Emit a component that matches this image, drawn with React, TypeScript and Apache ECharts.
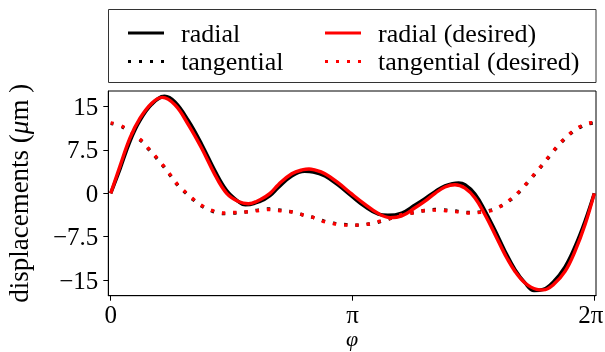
import React, { useEffect, useRef } from "react";
import * as echarts from "echarts";

// radial (measured)
const PHI_RAD = [0, 0.121, 0.251, 0.381, 0.533, 0.70, 0.835, 1.008, 1.182, 1.355, 1.507, 1.658, 1.75, 1.94, 2.07, 2.178, 2.352, 2.52, 2.632, 2.784, 2.957, 3.131, 3.304, 3.477, 3.6, 3.781, 3.954, 4.083, 4.214, 4.343, 4.52, 4.603, 4.733, 4.863, 4.993, 5.123, 5.253, 5.383, 5.5, 5.621, 5.751, 5.903, 6.033, 6.163, 6.283];
const VAL_RAD = [0, 4.2, 9.0, 12.6, 15.4, 16.8, 15.8, 12.6, 8.5, 3.9, 0.5, -1.4, -2.0, -1.4, -0.4, 1.0, 3.0, 3.8, 3.7, 3.0, 1.4, -0.5, -2.3, -3.6, -3.8, -3.4, -2.0, -0.9, 0.3, 1.3, 1.8, 1.5, -0.1, -3.0, -6.4, -10.0, -13.2, -15.5, -16.8, -16.6, -15.3, -12.7, -9.2, -4.8, 0];

// radial (desired)
const PHI_RAD_D = [0, 0.121, 0.251, 0.381, 0.533, 0.67, 0.835, 1.008, 1.182, 1.355, 1.507, 1.658, 1.788, 1.94, 2.07, 2.178, 2.352, 2.502, 2.577, 2.632, 2.784, 2.957, 3.131, 3.304, 3.477, 3.629, 3.781, 3.954, 4.083, 4.214, 4.343, 4.473, 4.603, 4.733, 4.863, 4.993, 5.123, 5.253, 5.383, 5.535, 5.621, 5.751, 5.903, 6.033, 6.163, 6.283];
const VAL_RAD_D = [0, 4.7, 9.6, 13.0, 15.6, 16.6, 15.3, 11.9, 7.8, 3.2, 0, -1.4, -1.8, -1.1, 0, 1.5, 3.4, 4.1, 4.2, 4.1, 3.4, 1.8, -0.1, -1.9, -3.5, -4.2, -3.9, -2.5, -1.35, 0, 1.1, 1.5, 0.9, -0.8, -3.7, -7.1, -10.6, -13.5, -15.5, -16.6, -16.7, -15.8, -13.5, -10.0, -5.4, 0];

// tangential (measured and desired share the sample angles)
const PHI_TAN = [0, 0.164, 0.394, 0.489, 0.589, 0.684, 0.775, 0.865, 0.965, 1.073, 1.195, 1.325, 1.468, 1.619, 1.767, 1.91, 2.048, 2.2, 2.352, 2.49, 2.638, 2.772, 2.915, 3.058, 3.21, 3.356, 3.5, 3.643, 3.781, 3.911, 4.061, 4.213, 4.356, 4.503, 4.646, 4.798, 4.941, 5.071, 5.197, 5.305, 5.4, 5.496, 5.591, 5.682, 5.773, 5.868, 5.99, 6.107, 6.25, 6.283];
const VAL_TAN = [12.1, 11.4, 9.1, 7.7, 6.2, 4.7, 3.1, 1.5, 0.2, -1.1, -2.3, -3.1, -3.5, -3.4, -3.2, -2.9, -2.7, -2.9, -3.2, -3.7, -4.2, -4.8, -5.2, -5.4, -5.5, -5.3, -4.9, -4.3, -3.8, -3.4, -3.0, -2.8, -2.9, -3.1, -3.3, -3.2, -2.9, -2.2, -1.1, 0.2, 1.6, 3.1, 4.6, 6.1, 7.6, 9.0, 10.5, 11.5, 12.1, 12.1];
const VAL_TAN_D = [12.2, 11.5, 9.2, 7.8, 6.3, 4.8, 3.2, 1.6, 0.3, -1.0, -2.2, -3.0, -3.4, -3.3, -3.2, -3.0, -2.8, -3.0, -3.2, -3.7, -4.2, -4.9, -5.3, -5.5, -5.5, -5.3, -4.8, -4.3, -3.7, -3.4, -3.0, -2.9, -3.0, -3.2, -3.4, -3.3, -3.0, -2.2, -1.0, 0.3, 1.7, 3.2, 4.7, 6.2, 7.7, 9.1, 10.6, 11.6, 12.2, 12.2];

const X_TICKS = [0, Math.PI, 2 * Math.PI];
const X_TICK_LABELS = ["0", "π", "2π"];
const Y_TICKS = [-15, -7.5, 0, 7.5, 15];
const Y_TICK_LABELS = ["\u221215", "\u22127.5", "0", "7.5", "15"];

const SERIF = "'Liberation Serif', 'DejaVu Serif', serif";
const DOTS_ICON = "path://M0,0h3v3h-3z M11,0h3v3h-3z M22,0h3v3h-3z M33,0h3v3h-3z";

function pairs(xs: number[], ys: number[]) {
  return xs.map((x, i) => [x, ys[i]]);
}

export default function App() {
  const ref = useRef<HTMLDivElement>(null);
  useEffect(() => {
    if (!ref.current) return;
    const chart = echarts.init(ref.current, null, { renderer: "svg" });
    const dotted = [3, 8.3];
    const mk = (name: string, data: number[][], color: string, dash: any) => ({
      name,
      type: "line",
      data,
      smooth: 0.4,
      showSymbol: false,
      symbol: "none",
      lineStyle: { color, width: 3.4, type: dash, cap: "butt" },
      itemStyle: { color },
      emphasis: { disabled: true },
      z: 2,
    });
    const legendText = {
      fontFamily: SERIF,
      fontSize: 26,
      color: "#000",
      lineHeight: 26,
      padding: [0, 0, 0, 12],
    };
    const legendBase = {
      orient: "vertical",
      top: 15,
      itemWidth: 36,
      itemHeight: 3,
      itemGap: 2.4,
      textStyle: legendText,
      selectedMode: false,
    };
    chart.setOption({
      animation: false,
      grid: {
        left: 108.3,
        top: 91,
        width: 487.7,
        height: 204.7,
        show: true,
        borderColor: "#000",
        borderWidth: 1,
        backgroundColor: "transparent",
        containLabel: false,
        outerBoundsMode: "none",
      },
      legend: [
        {
          ...legendBase,
          left: 123,
          data: [
            { name: "radial", icon: "rect" },
            { name: "tangential", icon: DOTS_ICON },
          ],
        },
        {
          ...legendBase,
          left: 320,
          data: [
            { name: "radial (desired)", icon: "rect" },
            { name: "tangential (desired)", icon: DOTS_ICON },
          ],
        },
      ],
      graphic: [
        {
          type: "rect",
          shape: { x: 108.5, y: 9.5, width: 487.5, height: 73 },
          style: { fill: "none", stroke: "#333", lineWidth: 1 },
          silent: true,
        },
      ],
      xAxis: {
        type: "value",
        min: -0.031,
        max: 6.305,
        splitLine: { show: false },
        axisLine: { show: true, onZero: false, lineStyle: { color: "#000", width: 1 } },
        axisTick: {
          show: true,
          length: 5,
          lineStyle: { color: "#000", width: 1 },
          customValues: X_TICKS,
        },
        axisLabel: {
          customValues: X_TICKS,
          formatter: (v: number) => {
            const i = X_TICKS.findIndex((t) => Math.abs(t - v) < 1e-6);
            if (i < 0) return "";
            return i === 2 ? "{r|" + X_TICK_LABELS[i] + "}" : X_TICK_LABELS[i];
          },
          rich: {
            r: { fontFamily: SERIF, fontSize: 25, color: "#000", padding: [0, 7, 0, 0] },
          },
          fontFamily: SERIF,
          fontSize: 25,
          color: "#000",
          margin: 6,
        },
        name: "φ",
        nameLocation: "middle",
        nameGap: 32,
        nameMoveOverlap: false,
        nameTextStyle: {
          fontFamily: SERIF,
          fontStyle: "italic",
          fontSize: 22,
          color: "#000",
        },
      },
      yAxis: {
        type: "value",
        min: -17.7,
        max: 17.7,
        splitLine: { show: false },
        axisLine: { show: true, onZero: false, lineStyle: { color: "#000", width: 1 } },
        axisTick: {
          show: true,
          length: 5,
          lineStyle: { color: "#000", width: 1 },
          customValues: Y_TICKS,
        },
        axisLabel: {
          customValues: Y_TICKS,
          formatter: (v: number) => {
            const i = Y_TICKS.findIndex((t) => Math.abs(t - v) < 1e-6);
            return i >= 0 ? Y_TICK_LABELS[i] : "";
          },
          fontFamily: SERIF,
          fontSize: 25,
          color: "#000",
          margin: 10,
        },
        name: "{a|displacements (}{b|μ}{a|m )}",
        nameLocation: "middle",
        nameGap: 76,
        nameRotate: 90,
        nameMoveOverlap: false,
        nameTextStyle: {
          rich: {
            a: { fontFamily: SERIF, fontSize: 27, color: "#000" },
            b: { fontFamily: SERIF, fontSize: 27, color: "#000", fontStyle: "italic" },
          },
        },
      },
      series: [
        mk("radial", pairs(PHI_RAD, VAL_RAD), "#000", "solid"),
        mk("tangential", pairs(PHI_TAN, VAL_TAN), "#000", dotted),
        mk("radial (desired)", pairs(PHI_RAD_D, VAL_RAD_D), "#ff0000", "solid"),
        mk("tangential (desired)", pairs(PHI_TAN, VAL_TAN_D), "#ff0000", dotted),
      ],
    });
    return () => chart.dispose();
  }, []);
  return (
    <div
      ref={ref}
      style={{ position: "fixed", left: 0, top: 0, width: 605, height: 352 }}
    />
  );
}
